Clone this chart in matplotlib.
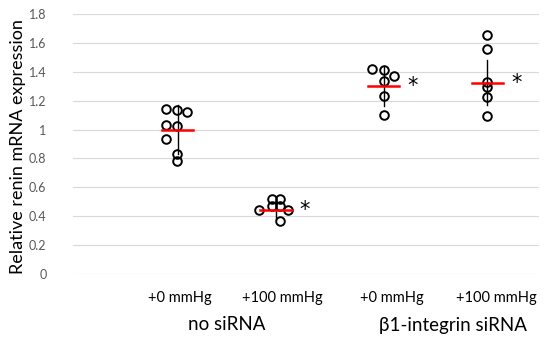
import matplotlib.pyplot as plt
import numpy as np

plt.rcParams['font.family'] = ['Lato', 'DejaVu Sans']

# individual measurements (x position within the group, value)
g1_x = [0.9, 1.0, 1.1, 0.9, 1.0, 0.9, 1.0, 1.0]
g1_y = [1.14, 1.135, 1.12, 1.03, 1.025, 0.935, 0.83, 0.78]
g2_x = [1.8, 1.92, 1.92, 2.0, 2.0, 2.08, 2.0]
g2_y = [0.44, 0.52, 0.47, 0.52, 0.47, 0.44, 0.37]
g3_x = [2.89, 3.0, 3.1, 3.0, 3.0, 3.0]
g3_y = [1.42, 1.41, 1.37, 1.335, 1.235, 1.10]
g4_x = [4.0, 4.0, 4.0, 4.0, 4.0, 4.0]
g4_y = [1.655, 1.56, 1.33, 1.295, 1.225, 1.095]

# group summary: centre, mean, sd, significant?
centers = [1.01, 1.96, 3.0, 4.0]
means = [1.0, 0.44, 1.30, 1.325]
sds = [0.17, 0.058, 0.14, 0.155]
signif = [False, True, True, True]

cond_labels = ['+0 mmHg', '+100 mmHg', '+0 mmHg', '+100 mmHg']
cond_pos = [1.03, 2.02, 3.08, 4.09]
group_labels = ['no siRNA', '\u03b21-integrin siRNA']
group_pos = [1.48, 3.67]

fig = plt.figure(figsize=(5.5, 3.43), dpi=100)
ax = fig.add_axes([73 / 550, 1 - 274 / 343, 466 / 550, 260 / 343])

ax.set_xlim(0, 4.5)
ax.set_ylim(0, 1.8)
ax.set_yticks(np.arange(0, 1.81, 0.2))
ax.set_yticklabels(['0', '0.2', '0.4', '0.6', '0.8', '1', '1.2', '1.4', '1.6', '1.8'])
ax.set_xticks([])
ax.grid(axis='y', color='#d9d9d9', linewidth=0.8)
ax.set_axisbelow(True)
for s in ax.spines.values():
    s.set_visible(False)
ax.tick_params(axis='y', length=0, pad=19, labelsize=9, labelcolor='#595959')

for c, m, sd, sig in zip(centers, means, sds, signif):
    ax.plot([c, c], [m - sd, m + sd], color='black', linewidth=1, zorder=2)
    ax.plot([c - 0.15, c + 0.15], [m, m], color='#ff0000', linewidth=1.8, zorder=4)
    if sig:
        ax.text(c + 0.28, m, '*', fontsize=15, ha='center', va='center',
                family='DejaVu Sans')

for xs, ys in [(g1_x, g1_y), (g2_x, g2_y), (g3_x, g3_y), (g4_x, g4_y)]:
    ax.plot(xs, ys, 'o', markersize=6.2, markerfacecolor='none',
            markeredgecolor='black', markeredgewidth=1.4, zorder=3, clip_on=False)

tr = ax.get_xaxis_transform()
for lab, x in zip(cond_labels, cond_pos):
    ax.text(x, -24 / 260, lab, transform=tr, ha='center', va='center', fontsize=10.5)
for lab, x in zip(group_labels, group_pos):
    ax.text(x, -51 / 260, lab, transform=tr, ha='center', va='center', fontsize=13.5)

fig.text(18.5 / 550, 1 - 147 / 343, 'Relative renin mRNA expression', rotation=90,
         ha='center', va='center', fontsize=13)

fig.savefig('out.png', dpi=100)
